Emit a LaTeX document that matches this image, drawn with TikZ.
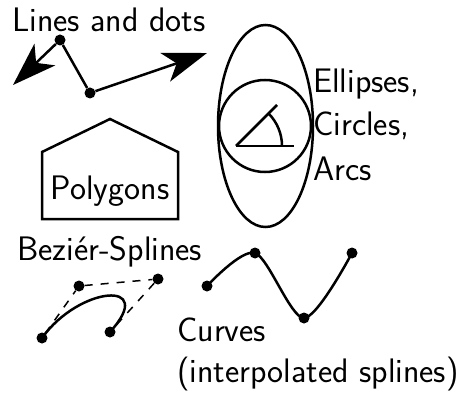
\documentclass[tikz,border=0pt]{standalone}
\usepackage{fontspec}
\usepackage{tikz}
\usetikzlibrary{arrows.meta,shapes.geometric,calc}
\tikzset{
  stroke/.style={line width=2.5pt},
  bigarrow/.style={stroke, -{Stealth[length=44pt, width=30pt, inset=12pt]}},
  dotnode/.style={circle, fill, inner sep=0pt, minimum size=11pt},
  ctrl/.style={line width=1.5pt, dash pattern=on 8pt off 8pt},
  lbl/.style={inner sep=0pt, anchor=base west, align=left}
}

\begin{document}
\begin{tikzpicture}[x=1pt, y=1pt, font=\sffamily\fontsize{34}{44}\selectfont]
  \useasboundingbox (0,0) rectangle (460,394);

  % lines and dots
  \node[lbl] (lines) at (12,362) {Lines and dots};
  \node[dotnode] (d1) at (60,354) {};
  \node[dotnode] (d2) at (90,301) {};
  \coordinate (tipL) at (13,309);
  \coordinate (tipR) at (207,341);
  \draw[bigarrow] (d1) -- (tipL);
  \draw[stroke] (d1) -- (d2);
  \draw[bigarrow] (d2) -- (tipR);

  % ellipse, circle, arc
  \node[draw, stroke, ellipse, minimum width=95pt, minimum height=202pt] (ell) at (265.5,268) {};
  \node[draw, stroke, circle, minimum size=92pt] (circ) at (265,268) {};
  \coordinate (apex) at (236,248);
  \draw[stroke] (apex) -- +(58,0);
  \draw[stroke] (apex) -- +(45:58);
  \draw[stroke] ($(apex)+(46,0)$) arc[start angle=0, end angle=45, radius=46];
  \node[lbl] (ecatext) at (313,214) {Ellipses,\\Circles,\\Arcs};

  % polygon
  \draw[stroke] (42,175) -- (42,242) -- (110,275) -- (178,242) -- (178,175) -- cycle;
  \node[inner sep=0pt, anchor=base] (poly) at (110,194) {Polygons};

  % bezier
  \node[lbl] (bez) at (17,134) {Beziér-Splines};
  \node[dotnode] (b0) at (42,56) {};
  \node[dotnode] (b1) at (79,108) {};
  \node[dotnode] (b2) at (158,115) {};
  \node[dotnode] (b3) at (110,62) {};
  \draw[ctrl] (b0) -- (b1) -- (b2) -- (b3);
  \draw[stroke] (b0.center) .. controls (b1.center) and (b2.center) .. (b3.center);

  % interpolated curve
  \node[dotnode] (c1) at (207,108) {};
  \node[dotnode] (c2) at (255,141) {};
  \node[dotnode] (c3) at (304,76) {};
  \node[dotnode] (c4) at (352,141) {};
  \draw[stroke] plot[smooth] coordinates {(c1.center) (c2.center) (c3.center) (c4.center)};
  \node[lbl] (curv) at (177,12) {Curves\\[-3pt](interpolated splines)};
\end{tikzpicture}
\end{document}
